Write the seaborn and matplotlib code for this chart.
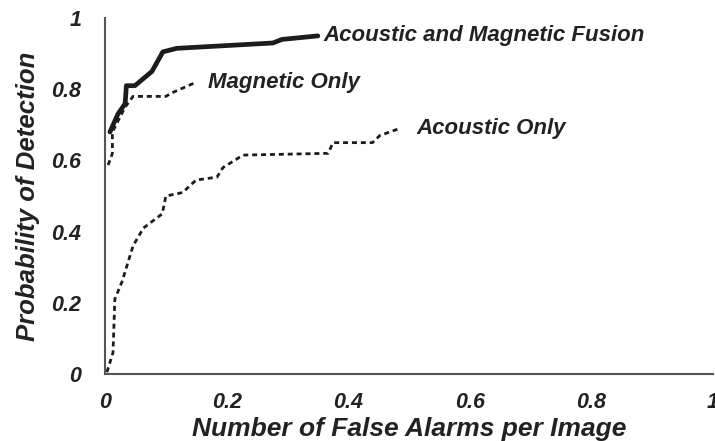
import matplotlib
matplotlib.use("Agg")
import matplotlib.pyplot as plt
import seaborn as sns
import pandas as pd

# Data
fusion_x = [0.008, 0.021, 0.033, 0.035, 0.049, 0.077, 0.095, 0.118, 0.276, 0.291, 0.35]
fusion_y = [0.68, 0.73, 0.76, 0.81, 0.81, 0.85, 0.905, 0.915, 0.93, 0.94, 0.95]

magnetic_x = [0.005, 0.012, 0.012, 0.033, 0.046, 0.10, 0.11, 0.15]
magnetic_y = [0.587, 0.62, 0.68, 0.75, 0.78, 0.78, 0.79, 0.82]

acoustic_x = [0.003, 0.013, 0.016, 0.028, 0.046, 0.063, 0.094, 0.10, 0.128, 0.14, 0.15,
              0.184, 0.194, 0.227, 0.367, 0.375, 0.44, 0.452, 0.485]
acoustic_y = [0.005, 0.06, 0.21, 0.26, 0.36, 0.41, 0.45, 0.50, 0.51, 0.53, 0.545,
              0.553, 0.58, 0.615, 0.62, 0.65, 0.65, 0.67, 0.69]

x_ticks = [0, 0.2, 0.4, 0.6, 0.8, 1]
x_tick_labels = ["0", "0.2", "0.4", "0.6", "0.8", "1"]
y_ticks = [0, 0.2, 0.4, 0.6, 0.8, 1]
y_tick_labels = ["0", "0.2", "0.4", "0.6", "0.8", "1"]

labels = ["Acoustic and Magnetic Fusion", "Magnetic Only", "Acoustic Only"]
label_pos = [(0.36, 0.95), (0.17, 0.82), (0.513, 0.69)]

sns.set_style("white")
plt.rcParams["font.family"] = ["Liberation Sans", "DejaVu Sans"]

fig = plt.figure(figsize=(7.15, 4.41), dpi=100)
ax = fig.add_axes([0.147, 0.152, 0.850, 0.807])

ink = "#1c1c1c"
df_f = pd.DataFrame({"x": fusion_x, "y": fusion_y})
df_m = pd.DataFrame({"x": magnetic_x, "y": magnetic_y})
df_a = pd.DataFrame({"x": acoustic_x, "y": acoustic_y})

sns.lineplot(data=df_a, x="x", y="y", ax=ax, color=ink, lw=2.0,
             linestyle=(0, (1.8, 1.4)), sort=False, estimator=None)
sns.lineplot(data=df_m, x="x", y="y", ax=ax, color=ink, lw=2.0,
             linestyle=(0, (1.8, 1.4)), sort=False, estimator=None)
sns.lineplot(data=df_f, x="x", y="y", ax=ax, color=ink, lw=3.4,
             sort=False, estimator=None, solid_capstyle="round")

for lab, (lx, ly) in zip(labels, label_pos):
    ax.text(lx, ly, lab, fontsize=16, fontweight="bold", fontstyle="italic",
            color="#222222", va="center", ha="left")

ax.set_xlim(0, 1)
ax.set_ylim(0, 1)
ax.set_xticks(x_ticks)
ax.set_xticklabels(x_tick_labels)
ax.set_yticks(y_ticks)
ax.set_yticklabels(y_tick_labels)
for t in ax.get_xticklabels() + ax.get_yticklabels():
    t.set_fontweight("bold")
    t.set_fontstyle("italic")
    t.set_fontsize(15.5)
    t.set_color("#222222")
ax.tick_params(axis="both", direction="in", length=7, width=1, color="#555555")
ax.tick_params(axis="y", pad=17)
ax.tick_params(axis="x", pad=13)

ax.set_xlabel("Number of False Alarms per Image", fontsize=19, fontweight="bold",
              fontstyle="italic", color="#222222", labelpad=3)
ax.set_ylabel("Probability of Detection", fontsize=18.5, fontweight="bold",
              fontstyle="italic", color="#222222", labelpad=8)

for s in ["top", "right"]:
    ax.spines[s].set_visible(False)
for s in ["left", "bottom"]:
    ax.spines[s].set_color("#555555")
    ax.spines[s].set_linewidth(1.5)

fig.savefig("out.png", dpi=100)
